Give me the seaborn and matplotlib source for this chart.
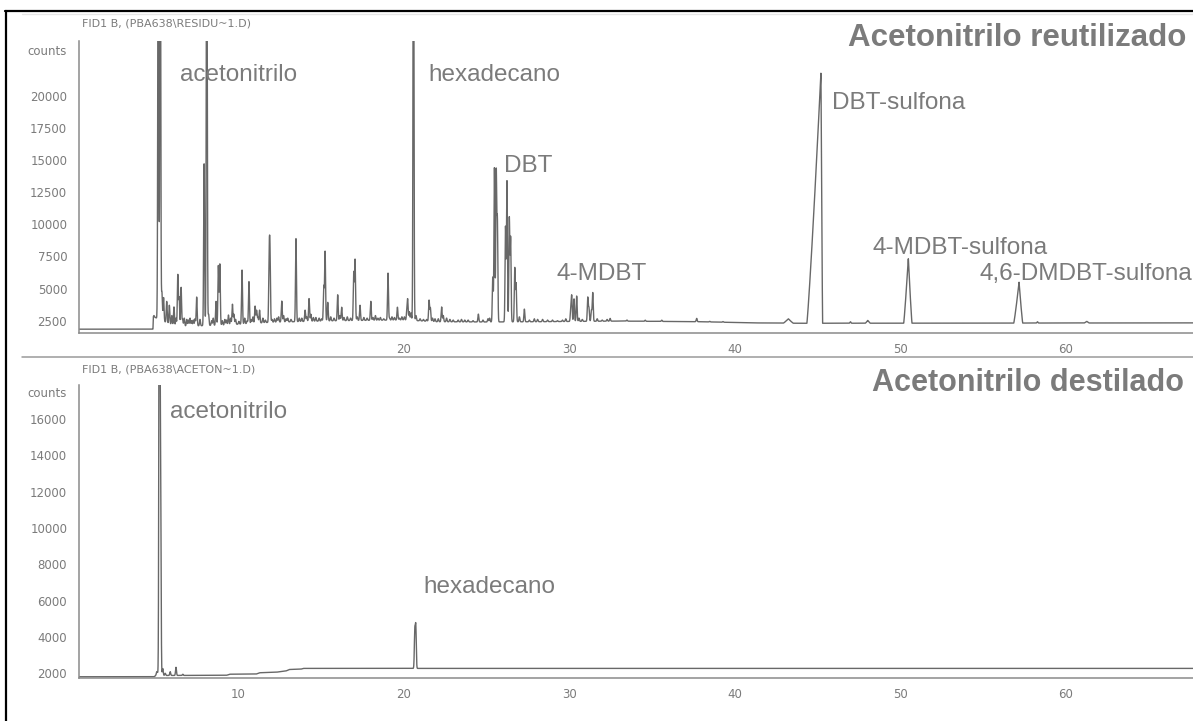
import numpy as np
import pandas as pd
import matplotlib
matplotlib.use("Agg")
import matplotlib.pyplot as plt
from matplotlib.lines import Line2D
from matplotlib.ticker import MultipleLocator, FixedLocator, FuncFormatter
import seaborn as sns

# ---------------------------------------------------------------------------
# Retention-time window of both FID traces (min)
T_MIN, T_MAX = 0.39, 67.70

# ---- Run 1: reused acetonitrile (FID1 B, RESIDU~1.D) ----------------------
reuse_base_t = [0.39, 4.86, 4.88, 5.00, 5.60, 6.20, 9.00, 12.0, 16.0, 20.0,
                22.0, 25.0, 28.0, 33.0, 38.0, 41.0, 44.0, 67.70]
reuse_base_c = [1840, 1840, 2750, 2750, 2400, 2060, 2150, 2380, 2500, 2560,
                2420, 2400, 2420, 2470, 2420, 2330, 2300, 2330]

# sharp peaks: retention time (min) and apex (counts)
reuse_rt = [4.92, 5.18, 5.30, 5.40, 5.50, 5.69, 5.85, 6.00, 6.13, 6.25, 6.36,
            6.44, 6.56, 6.65, 6.75, 6.90, 7.00, 7.10, 7.20, 7.30, 7.40, 7.50,
            7.70, 7.95, 8.11, 8.22, 8.40, 8.50, 8.67, 8.81, 8.90, 9.05, 9.20,
            9.30, 9.42, 9.55, 9.66, 9.75, 9.85, 10.05, 10.24, 10.40, 10.55,
            10.66, 10.80, 10.90, 11.03, 11.12, 11.20, 11.30, 11.50, 11.65,
            11.88, 11.93, 12.05, 12.20, 12.35, 12.45, 12.64, 12.75, 12.90,
            13.00, 13.20, 13.50, 13.70, 13.85, 14.05, 14.15, 14.29, 14.40,
            14.55, 14.70, 14.90, 15.05, 15.18, 15.26, 15.42, 15.60, 15.80,
            16.02, 16.15, 16.26, 16.40, 16.60, 16.80, 16.99, 17.07, 17.20,
            17.37, 17.60, 17.80, 18.02, 18.15, 18.30, 18.45, 18.60, 18.80,
            19.06, 19.15, 19.30, 19.45, 19.63, 19.75, 19.90, 20.05, 20.20,
            20.25, 20.35, 20.45, 20.60, 20.75, 21.00, 21.20, 21.40, 21.54,
            21.62, 21.75, 21.90, 22.10, 22.30, 22.40, 22.60, 22.80, 23.00,
            23.30, 23.50, 23.70, 23.90, 24.20, 24.52, 24.80, 25.10, 25.20,
            25.39, 25.49, 25.60, 25.67, 26.16, 26.25, 26.39, 26.47, 26.72,
            26.80, 27.00, 27.30, 27.60, 27.90, 28.10, 28.40, 28.70, 29.00,
            29.30, 29.60, 29.80, 30.10, 30.16, 30.30, 30.46, 30.60, 30.80,
            31.13, 31.20, 31.35, 31.43, 31.70, 32.00, 32.30, 32.48, 33.50,
            34.60, 35.60, 37.71, 38.50, 39.30, 47.00, 58.30]
reuse_apex = [2900, 40000, 40000, 4700, 4300, 4000, 3700, 2900, 3570, 2700,
              6070, 4300, 5100, 2600, 2700, 2600, 2550, 2700, 2500, 2550,
              2650, 4340, 2600, 14700, 40000, 3000, 2500, 2700, 4000, 6770,
              6900, 2500, 2600, 2550, 2940, 2700, 3780, 3000, 2600, 2450,
              6450, 2700, 2500, 5550, 2600, 2800, 3630, 3300, 2750, 3320,
              2700, 2550, 7400, 7460, 2600, 2650, 2700, 2800, 4030, 2900,
              2650, 2700, 2600, 8900, 2700, 2700, 3320, 2800, 4220, 3000,
              2750, 2750, 2700, 2650, 5160, 7870, 3930, 2800, 2700, 4520,
              2900, 3550, 2750, 2800, 2700, 6260, 7230, 2800, 3700, 2750,
              2700, 4010, 2750, 2900, 2700, 2750, 2650, 6210, 2700, 2800,
              2750, 3550, 2700, 2800, 2800, 3300, 4030, 3200, 3100, 40000,
              2900, 2650, 2600, 2600, 4090, 3500, 2700, 2650, 2650, 3570,
              2900, 2700, 2600, 2550, 2550, 2600, 2550, 2550, 2500, 3010,
              2550, 2650, 2700, 5880, 14390, 14000, 10100, 9800, 13350,
              10480, 8940, 6600, 5390, 2800, 3400, 2550, 2650, 2600, 2600,
              2550, 2550, 2500, 2550, 2650, 3300, 4420, 4200, 4420, 2700,
              2600, 4300, 3500, 3300, 4680, 2650, 2550, 2600, 2680, 2550,
              2540, 2540, 2680, 2450, 2430, 2420, 2420]

# broad peaks: retention time, apex, front and tail base half-width (min)
reuse_broad_rt = [43.25, 45.22, 48.05, 50.50, 57.19, 61.28]
reuse_broad_apex = [2650, 21800, 2520, 7360, 5490, 2450]
reuse_broad_front = [0.30, 0.85, 0.15, 0.28, 0.32, 0.15]
reuse_broad_tail = [0.30, 0.10, 0.15, 0.22, 0.22, 0.15]

# ---- Run 2: distilled acetonitrile (FID1 B, ACETON~1.D) -------------------
dist_base_t = [0.39, 4.95, 5.00, 9.30, 9.50, 11.1, 11.3, 12.3, 12.9, 13.1,
               13.8, 13.95, 67.70]
dist_base_c = [1810, 1810, 1880, 1890, 1950, 1960, 2030, 2060, 2130, 2210,
               2230, 2270, 2270]
dist_rt = [5.09, 5.15, 5.25, 5.32, 5.45, 5.60, 5.90, 6.25, 6.66, 20.68, 20.74]
dist_apex = [2080, 2000, 40000, 12800, 2260, 2000, 2090, 2330, 1950, 4300, 4520]

# peak names written on each trace: (text, rt, counts)
reuse_labels = [("acetonitrilo", 6.50, 21600), ("hexadecano", 21.48, 21600),
                ("DBT", 26.07, 14500), ("4-MDBT", 29.27, 6150),
                ("DBT-sulfona", 45.89, 19400), ("4-MDBT-sulfona", 48.34, 8150),
                ("4,6-DMDBT-sulfona", 54.83, 6150)]
dist_labels = [("acetonitrilo", 5.89, 16400), ("hexadecano", 21.19, 6750)]

# axis ranges and ticks
reuse_ylim = (1543, 24255)
reuse_yticks = [2500, 5000, 7500, 10000, 12500, 15000, 17500, 20000, 22500]
dist_ylim = (1725, 17872)
dist_yticks = [2000, 4000, 6000, 8000, 10000, 12000, 14000, 16000]

# ---------------------------------------------------------------------------
SHARP_SIGMA = 0.028
t = np.arange(T_MIN, T_MAX, 0.004)


def baseline(base_t, base_c):
    return np.interp(t, base_t, base_c)


def add_sharp(sig, base_t, base_c, rt, apex):
    for r, a in zip(rt, apex):
        h = a - np.interp(r, base_t, base_c)
        sig += h * np.exp(-0.5 * ((t - r) / SHARP_SIGMA) ** 2)
    return sig


def add_broad(sig, base_t, base_c, rt, apex, front, tail):
    # near-triangular profile with separate front and tail widths
    for r, a, f, b in zip(rt, apex, front, tail):
        h = a - np.interp(r, base_t, base_c)
        w = np.where(t < r, f, b)
        sig += h * np.clip(1 - np.abs(t - r) / w, 0, None) ** 1.15
    return sig


reuse_counts = baseline(reuse_base_t, reuse_base_c)
reuse_counts = add_sharp(reuse_counts, reuse_base_t, reuse_base_c,
                         reuse_rt, reuse_apex)
reuse_counts = add_broad(reuse_counts, reuse_base_t, reuse_base_c,
                         reuse_broad_rt, reuse_broad_apex,
                         reuse_broad_front, reuse_broad_tail)
dist_counts = add_sharp(baseline(dist_base_t, dist_base_c),
                        dist_base_t, dist_base_c, dist_rt, dist_apex)

df_reuse = pd.DataFrame({"t": t, "counts": reuse_counts})
df_dist = pd.DataFrame({"t": t, "counts": dist_counts})

# ---------------------------------------------------------------------------
sns.set_style("white")
plt.rcParams["font.family"] = ["Liberation Sans", "DejaVu Sans"]

W, H = 1193, 721
fig = plt.figure(figsize=(W / 100, H / 100), dpi=100)

TRACE = "#686868"
AXIS = "#8a8a8a"
TXT = "#7b7b7b"


def px_axes(left, top, right, bottom):
    return fig.add_axes([left / W, 1 - bottom / H, (right - left) / W,
                         (bottom - top) / H])


ax1 = px_axes(79, 41, W, 333)
ax2 = px_axes(79, 385, W, 678.3)

panels = [
    (ax1, df_reuse, reuse_ylim, reuse_yticks, 500, reuse_labels, 23400,
     20000),
    (ax2, df_dist, dist_ylim, dist_yticks, 400, dist_labels, 17430, 16000),
]

for ax, df, ylim, yticks, yminor, labels, counts_y, max_lab in panels:
    sns.lineplot(data=df, x="t", y="counts", ax=ax, color=TRACE,
                 linewidth=1.0, estimator=None, sort=False)
    ax.set_xlim(T_MIN, T_MAX)
    ax.set_ylim(*ylim)
    ax.set_xlabel("")
    ax.set_ylabel("")
    ax.set_facecolor("none")
    for side in ("top", "right"):
        ax.spines[side].set_visible(False)
    for side in ("left", "bottom"):
        ax.spines[side].set_color(AXIS)
        ax.spines[side].set_linewidth(1.1)

    ax.xaxis.set_major_locator(MultipleLocator(10))
    ax.xaxis.set_minor_locator(MultipleLocator(2))
    ax.xaxis.set_major_formatter(
        FuncFormatter(lambda v, p: f"{v:.0f}" if v > 0 else ""))
    ax.yaxis.set_major_locator(FixedLocator(yticks))
    ax.yaxis.set_minor_locator(MultipleLocator(yminor))
    ax.yaxis.set_major_formatter(
        FuncFormatter(lambda v, p, m=max_lab: f"{v:.0f}" if v <= m else ""))

    ax.tick_params(axis="both", which="major", direction="out", length=5,
                   width=0.8, color=AXIS, labelcolor=TXT, labelsize=8.5,
                   labelfontfamily="DejaVu Sans")
    ax.tick_params(axis="both", which="minor", direction="out", length=2.8,
                   width=0.8, color=AXIS)
    ax.tick_params(axis="y", which="major", pad=3.5)
    ax.tick_params(axis="x", which="major", pad=2)

    ax.annotate("counts", xy=(0, counts_y), xycoords=ax.get_yaxis_transform(),
                xytext=(-8.6, 0), textcoords="offset points", ha="right",
                va="center", fontsize=8.5, color=TXT, family="DejaVu Sans",
                annotation_clip=False)

    for text, rt, c in labels:
        ax.text(rt, c, text, ha="left", va="center", fontsize=17.5,
                color=TXT, clip_on=False)

# run headers and sample titles
fig.text(82 / W, 1 - 24 / H, r"FID1 B, (PBA638\RESIDU~1.D)", fontsize=8,
         color=TXT, family="DejaVu Sans", va="center", ha="left")
fig.text(82 / W, 1 - 369 / H, r"FID1 B, (PBA638\ACETON~1.D)", fontsize=8,
         color=TXT, family="DejaVu Sans", va="center", ha="left")
fig.text(1186 / W, 1 - 38 / H, "Acetonitrilo reutilizado", fontsize=22.5,
         fontweight="bold", color=TXT, va="center", ha="right")
fig.text(1184 / W, 1 - 383 / H, "Acetonitrilo destilado", fontsize=22,
         fontweight="bold", color=TXT, va="center", ha="right")

# page frame and panel separator
fig.add_artist(Line2D([6 / W, 6 / W], [0, 1 - 11 / H], transform=fig.transFigure,
                      color="black", linewidth=1.6))
fig.add_artist(Line2D([5 / W, 1], [1 - 11 / H, 1 - 11 / H],
                      transform=fig.transFigure, color="black", linewidth=1.6))
fig.add_artist(Line2D([22 / W, 1], [1 - 14 / H, 1 - 14 / H],
                      transform=fig.transFigure, color="#e6e6e6", linewidth=1))
fig.add_artist(Line2D([22 / W, 1], [1 - 356.7 / H, 1 - 356.7 / H],
                      transform=fig.transFigure, color="#9a9a9a", linewidth=1.1))

fig.savefig("out.png", dpi=100, facecolor="white")
